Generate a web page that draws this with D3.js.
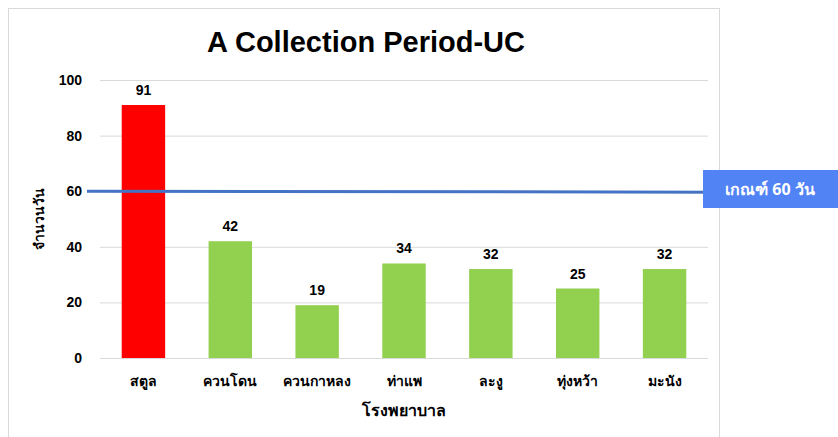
<!doctype html>
<html>
<head>
<meta charset="utf-8">
<script src="https://d3js.org/d3.v7.min.js"></script>
<style>
  body { margin: 0; background: #fff; }
  svg text { font-family: "Liberation Sans", Arial, sans-serif; }
</style>
</head>
<body>
<script>
// data
var hospitals = ["สตูล", "ควนโดน", "ควนกาหลง", "ท่าแพ", "ละงู", "ทุ่งหว้า", "มะนัง"];
var days = [91, 42, 19, 34, 32, 25, 32];
var barColors = ["#ff0000", "#92d050", "#92d050", "#92d050", "#92d050", "#92d050", "#92d050"];
var yTicks = [0, 20, 40, 60, 80, 100];
var target = 60;
var targetLabel = "เกณฑ์ 60 วัน";

var W = 838, H = 437;
var svg = d3.select("body").append("svg")
  .attr("width", W).attr("height", H);

// chart frame
svg.append("rect")
  .attr("x", 8.5).attr("y", 8.5)
  .attr("width", 711).attr("height", 440)
  .attr("fill", "#fff").attr("stroke", "#d9d9d9");

var x = d3.scaleBand().domain(hospitals).range([100, 708])
  .paddingInner(0.5).paddingOuter(0.25);
var y = d3.scaleLinear().domain([0, 100]).range([358, 80]);

// gridlines + y labels
var yAxis = d3.axisLeft(y).tickValues(yTicks).tickSize(-608).tickPadding(18);
var gy = svg.append("g").attr("transform", "translate(100,0)").call(yAxis);
gy.select(".domain").remove();
gy.selectAll(".tick line").attr("stroke", "#d9d9d9");
gy.selectAll(".tick text")
  .attr("font-size", 14).attr("font-weight", "bold").attr("fill", "#000")
  .attr("font-family", "Liberation Sans, Arial, sans-serif");

// bars
svg.selectAll(".bar").data(days).enter().append("rect")
  .attr("class", "bar")
  .attr("x", function(d, i) { return x(hospitals[i]); })
  .attr("y", function(d) { return y(d); })
  .attr("width", x.bandwidth())
  .attr("height", function(d) { return y(0) - y(d); })
  .attr("fill", function(d, i) { return barColors[i]; });

// value labels
svg.selectAll(".val").data(days).enter().append("text")
  .attr("x", function(d, i) { return x(hospitals[i]) + x.bandwidth() / 2; })
  .attr("y", function(d) { return y(d) - 10; })
  .attr("text-anchor", "middle")
  .attr("font-size", 14).attr("font-weight", "bold")
  .text(function(d) { return d; });

// x labels
var xAxis = d3.axisBottom(x).tickSize(0).tickPadding(18);
var gx = svg.append("g").attr("transform", "translate(0,358)").call(xAxis);
gx.select(".domain").remove();
gx.selectAll(".tick text")
  .attr("font-size", 14).attr("font-weight", "bold").attr("fill", "#000")
  .attr("font-family", "Noto Sans, sans-serif");

// axis titles
svg.append("text")
  .attr("x", 404).attr("y", 416)
  .attr("text-anchor", "middle")
  .attr("font-size", 16).attr("font-weight", "bold")
  .style("font-family", "Noto Sans, sans-serif")
  .text("โรงพยาบาล");

svg.append("text")
  .attr("transform", "translate(44,219) rotate(-90)")
  .attr("text-anchor", "middle")
  .attr("font-size", 14).attr("font-weight", "bold")
  .style("font-family", "Noto Sans, sans-serif")
  .text("จำนวนวัน");

// title
svg.append("text")
  .attr("x", 366).attr("y", 52)
  .attr("text-anchor", "middle")
  .attr("font-size", 29).attr("font-weight", "bold")
  .text("A Collection Period-UC");

// target line
svg.append("line")
  .attr("x1", 87).attr("x2", 720)
  .attr("y1", y(target)).attr("y2", y(target) + 1)
  .attr("stroke", "#4472c4").attr("stroke-width", 3);

svg.append("rect")
  .attr("x", 703).attr("y", 170)
  .attr("width", 135).attr("height", 38)
  .attr("fill", "#5283f5");
svg.append("text")
  .attr("x", 770).attr("y", 195)
  .attr("text-anchor", "middle")
  .attr("font-size", 16).attr("font-weight", "bold").attr("fill", "#fff")
  .style("font-family", "Noto Sans, sans-serif")
  .text(targetLabel);
</script>
</body>
</html>
